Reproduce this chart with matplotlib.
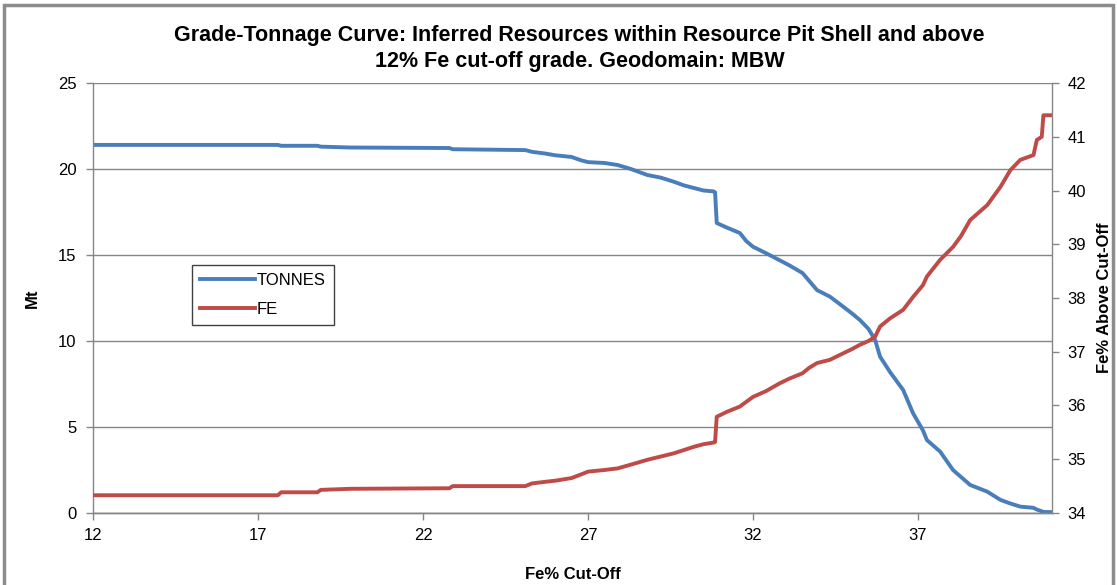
import matplotlib.pyplot as plt
from matplotlib.patches import Rectangle

plt.rcParams['font.family'] = ['Liberation Sans', 'DejaVu Sans']

# cut-off grade (Fe %) and the curves read at each cut-off
cutoff = [12, 17.6, 17.7, 18.8, 18.9, 19.8, 22.8, 22.9, 25.1, 25.3,
          25.7, 26.0, 26.5, 26.8, 27.0, 27.5, 27.9, 28.3, 28.8, 29.2,
          29.6, 29.9, 30.2, 30.5, 30.8, 30.85, 30.9, 31.2, 31.6, 31.8,
          32.0, 32.4, 32.8, 33.1, 33.5, 33.7, 33.94, 34.33, 34.73, 35.0,
          35.24, 35.5, 35.7, 35.85, 36.15, 36.55, 36.85, 37.15, 37.27, 37.67,
          38.06, 38.3, 38.58, 39.1, 39.5, 39.8, 40.1, 40.5, 40.6, 40.75,
          40.8, 41.05]
tonnes = [21.4, 21.4, 21.35, 21.35, 21.3, 21.25, 21.22, 21.15, 21.1, 21.0,
          20.9, 20.8, 20.7, 20.5, 20.4, 20.35, 20.23, 20.0, 19.65, 19.5,
          19.26, 19.05, 18.9, 18.75, 18.7, 18.65, 16.86, 16.6, 16.28, 15.8,
          15.48, 15.1, 14.7, 14.4, 13.95, 13.5, 12.96, 12.58, 12.0, 11.6,
          11.22, 10.7, 10.06, 9.09, 8.2, 7.15, 5.8, 4.8, 4.24, 3.57,
          2.5, 2.1, 1.63, 1.24, 0.76, 0.55, 0.37, 0.3, 0.2, 0.1,
          0.06, 0.05]
fe = [34.33, 34.33, 34.385, 34.385, 34.43, 34.45, 34.46, 34.5, 34.5, 34.55,
      34.58, 34.6, 34.65, 34.72, 34.77, 34.8, 34.83, 34.9, 34.99, 35.05,
      35.11, 35.17, 35.23, 35.28, 35.31, 35.32, 35.79, 35.88, 35.98, 36.07,
      36.16, 36.27, 36.41, 36.5, 36.6, 36.7, 36.79, 36.85, 36.97, 37.05,
      37.13, 37.2, 37.28, 37.47, 37.62, 37.78, 38.02, 38.24, 38.4, 38.71,
      38.95, 39.15, 39.45, 39.73, 40.07, 40.38, 40.57, 40.66, 40.94, 41.0,
      41.4, 41.4]

xticks = [12, 17, 22, 27, 32, 37]

blue = '#4a7ebb'
red = '#be4b48'
grey = '#868686'

fig = plt.figure(figsize=(11.17, 5.85), dpi=100)
ax = fig.add_axes([0.0833, 0.1231, 0.8585, 0.735])
ax2 = ax.twinx()

l1, = ax.plot(cutoff, tonnes, color=blue, lw=2.8, label='TONNES')
l2, = ax2.plot(cutoff, fe, color=red, lw=2.8, label='FE')

ax.set_xlim(12, 41.06)
ax.set_ylim(0, 25)
ax2.set_ylim(34, 42)
ax.set_xticks(xticks)
ax.set_yticks(range(0, 26, 5))
ax2.set_yticks(range(34, 43))

ax.grid(axis='y', color=grey, lw=1)
ax.set_axisbelow(True)
for a in (ax, ax2):
    a.spines['top'].set_visible(False)
    for s in ('left', 'right', 'bottom'):
        a.spines[s].set_color(grey)
        a.spines[s].set_linewidth(1)
    a.tick_params(colors=grey, labelcolor='black', labelsize=12, length=5, width=1)
ax.tick_params(axis='y', pad=7)
ax.tick_params(axis='x', pad=6)
ax2.tick_params(axis='y', pad=6)
ax2.spines['left'].set_visible(False)
ax.spines['right'].set_visible(False)

ax.set_xlabel('Fe% Cut-Off', fontsize=12, fontweight='bold', labelpad=17)
ax.set_ylabel('Mt', fontsize=12, fontweight='bold', labelpad=13)
ax2.set_ylabel('Fe% Above Cut-Off', fontsize=12, fontweight='bold', labelpad=8)

fig.suptitle('Grade-Tonnage Curve: Inferred Resources within Resource Pit Shell and above\n'
             '12% Fe cut-off grade. Geodomain: MBW',
             x=0.519, y=0.958, va='top', fontsize=15.5, fontweight='bold',
             linespacing=1.35)

leg = ax.legend(handles=[l1, l2], loc='upper left', bbox_to_anchor=(0.103, 0.577),
                fancybox=False, edgecolor='#404040', fontsize=12, handlelength=3.3,
                handletextpad=0.1, borderpad=0.5, labelspacing=0.8, framealpha=1,
                borderaxespad=0)
leg.get_frame().set_linewidth(1)

fig.patches.append(Rectangle((0.004, -0.05), 0.992, 1.041, transform=fig.transFigure,
                             fill=False, ec='#8c8c8c', lw=2.5))

fig.savefig('out.png', dpi=100)
